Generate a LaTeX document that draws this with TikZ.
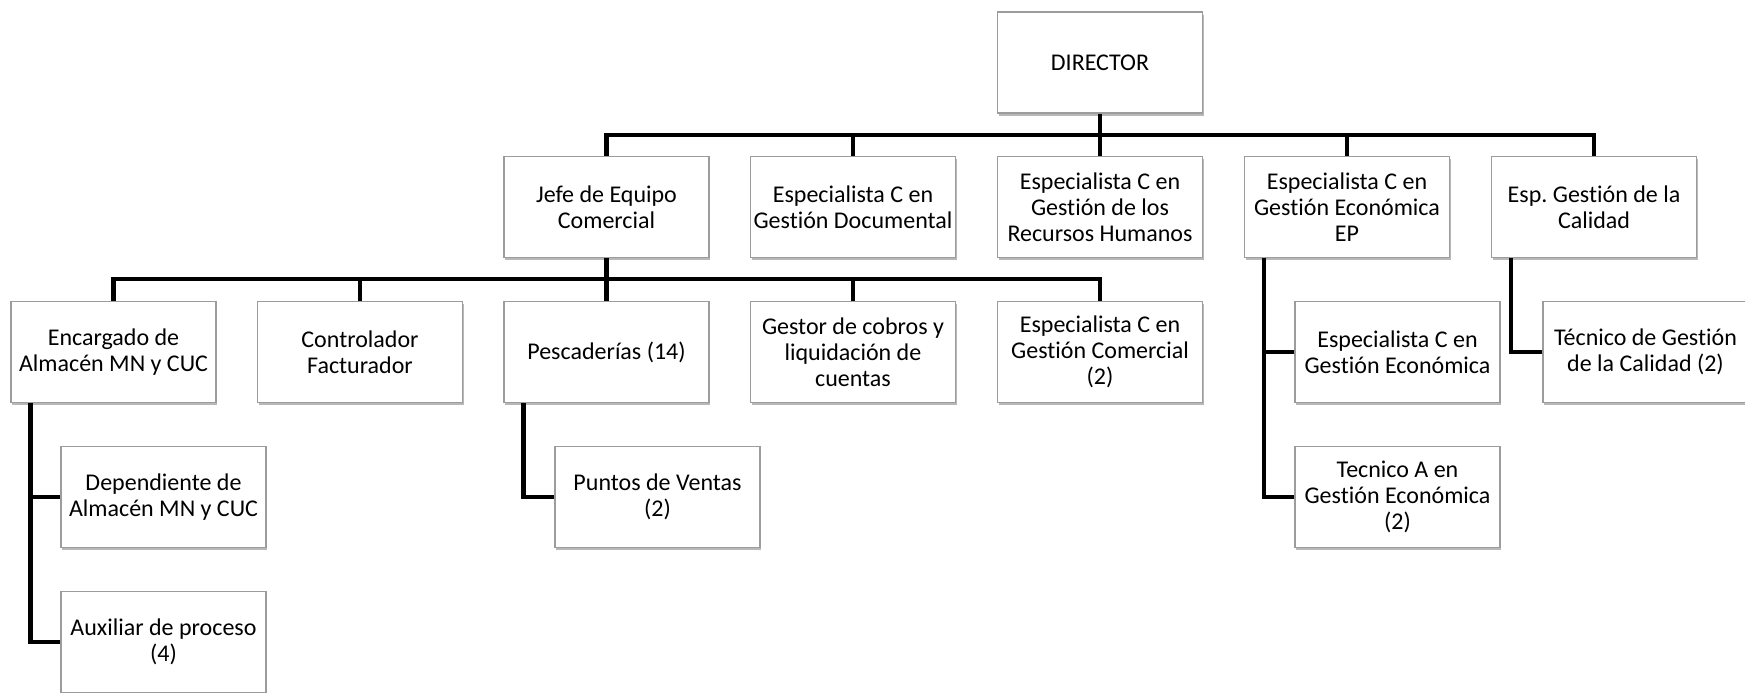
\documentclass[tikz,border=0pt]{standalone}
\usepackage{fontspec}
\setmainfont{Carlito}[Ligatures=NoCommon]
\frenchspacing
\usetikzlibrary{shadows}
\definecolor{boxgray}{HTML}{9C9C9C}
\begin{document}
\begin{tikzpicture}[x=0.5pt,y=-0.5pt,
  post/.style={draw=boxgray, line width=0.6pt, fill=white,
    minimum width=102.5pt, minimum height=50.5pt, inner sep=0pt,
    align=center, font=\fontsize{12pt}{13pt}\selectfont,
    drop shadow={shadow xshift=0.7pt, shadow yshift=-1.4pt, opacity=0.28, fill=black}},
  conn/.style={line width=2.3pt, draw=black}]
\useasboundingbox (0,0) rectangle (1745,692);

% bus levels
\coordinate (bus1) at (0,135);
\coordinate (bus2) at (0,279);

% top
\node[post] (dir) at (1100,62.5) {DIRECTOR};

% second row
\node[post] (jefe) at (606.5,207) {Jefe de Equipo\\Comercial};
\node[post] (doc)  at (853,207)   {Especialista C en\\Gestión Documental};
\node[post] (rrhh) at (1100,207)  {Especialista C en\\Gestión de los\\Recursos Humanos};
\node[post] (eco)  at (1347,207)  {Especialista C en\\Gestión Económica\\EP};
\node[post] (cal)  at (1594,207)  {Esp. Gestión de la\\Calidad};

% third row
\node[post] (enc)  at (113.5,352) {Encargado de\\Almacén MN y CUC};
\node[post] (ctrl) at (360,352)   {Controlador\\Facturador};
\node[post] (pesc) at (606.5,352) {Pescaderías (14)};
\node[post] (gest) at (853,352)   {Gestor de cobros y\\liquidación de\\cuentas};
\node[post] (ecom) at (1100,352)  {Especialista C en\\Gestión Comercial\\(2)};
\node[post] (ecge) at (1397.5,352) {Especialista C en\\Gestión Económica};
\node[post] (tgc)  at (1645.5,352) {Técnico de Gestión\\de la Calidad (2)};

% fourth and fifth rows
\node[post] (dep)  at (163.5,497) {Dependiente de\\Almacén MN y CUC};
\node[post] (pv)   at (657.5,497) {Puntos de Ventas\\(2)};
\node[post] (tga)  at (1397.5,497) {Tecnico A en\\Gestión Económica\\(2)};
\node[post] (aux)  at (163.5,642) {Auxiliar de proceso\\(4)};

% director to second row
\draw[conn] (dir.south) -- (rrhh.north);
\draw[conn] (jefe.north) |- (cal.north |- bus1) -- (cal.north);
\draw[conn] (doc.north) -- (doc.north |- bus1);
\draw[conn] (eco.north) -- (eco.north |- bus1);

% commercial head to third row
\draw[conn] (jefe.south) -- (pesc.north);
\draw[conn] (enc.north) |- (ecom.north |- bus2) -- (ecom.north);
\draw[conn] (ctrl.north) -- (ctrl.north |- bus2);
\draw[conn] (gest.north) -- (gest.north |- bus2);

% side branches
\coordinate (encx)  at ([xshift=10pt]enc.south west);
\coordinate (pescx) at ([xshift=10pt]pesc.south west);
\coordinate (ecox)  at ([xshift=10pt]eco.south west);
\coordinate (calx)  at ([xshift=10pt]cal.south west);

\draw[conn] (encx) |- (aux.west);
\draw[conn] (encx |- dep.west) -- (dep.west);
\draw[conn] (pescx) |- (pv.west);
\draw[conn] (ecox) |- (tga.west);
\draw[conn] (ecox |- ecge.west) -- (ecge.west);
\draw[conn] (calx) |- (tgc.west);
\end{tikzpicture}
\end{document}
